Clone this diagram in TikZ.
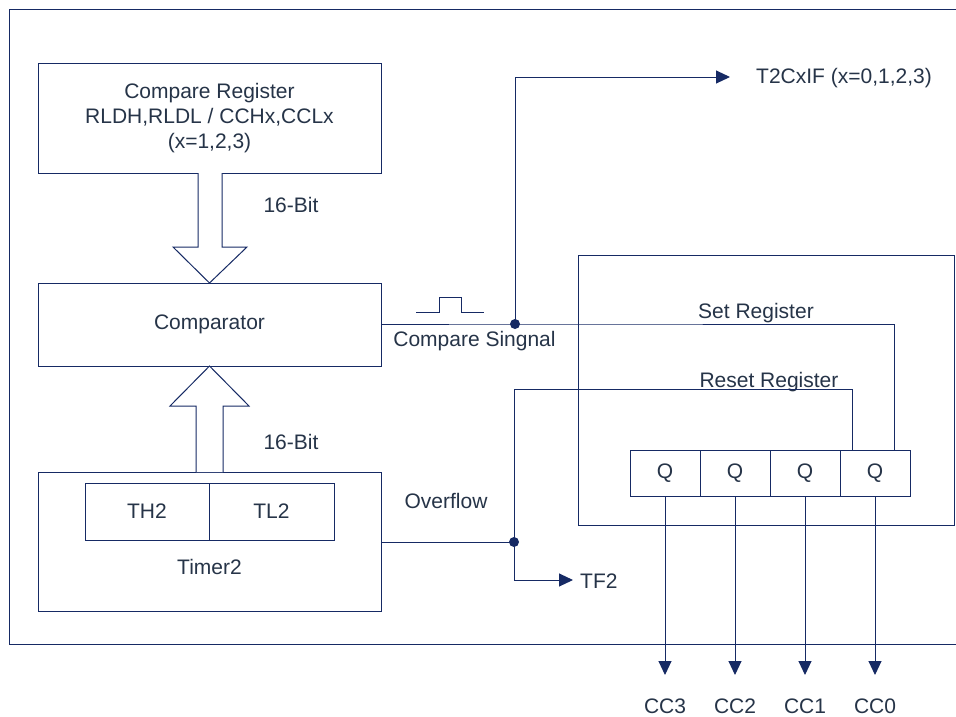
\documentclass[tikz,border=0pt]{standalone}
\usepackage{fontspec}
\setmainfont{Liberation Sans}
\usetikzlibrary{arrows.meta}
\definecolor{ln}{RGB}{22,42,100}
\definecolor{tx}{RGB}{38,52,72}
\begin{document}
\begin{tikzpicture}[x=1pt,y=-1pt,
  every node/.style={font=\fontsize{21}{25}\selectfont, text=tx},
  box/.style={draw=ln, line width=1pt, inner sep=0pt, anchor=center},
  lbl/.style={inner sep=0pt, anchor=base},
  wire/.style={draw=ln, line width=1pt},
  arr/.style={wire, -{Triangle[length=14pt,width=13pt]}},
  jdot/.style={circle, fill=ln, inner sep=0pt, minimum size=10pt}]
\useasboundingbox (0,0) rectangle (956,716);
\fill[white] (0,0) rectangle (956,716);
% outer frame
\draw[wire] (956,9) -- (9,9) -- (9,644) -- (956,644);
% left column boxes
\node[box, minimum width=343pt, minimum height=110pt, align=center] (creg) at (209.5,118)
  {Compare Register\\RLDH,RLDL / CCHx,CCLx\\(x=1,2,3)};
\node[box, minimum width=343pt, minimum height=83pt] (cmp) at (209.5,324.5) {Comparator};
\node[box, minimum width=343pt, minimum height=139pt] (tmr) at (209.5,541.5) {};
\node[box, minimum width=124pt, minimum height=57pt] (th2) at (147,511.5) {TH2};
\node[box, minimum width=125pt, minimum height=57pt] (tl2) at (271.5,511.5) {TL2};
\node[lbl] (tmrl) at (209.5,574) {Timer2};
% hollow arrows
\draw[wire, fill=white] (198,173) -- (198,247) -- (173,247) -- (209.5,283) -- (247,247) -- (222,247) -- (222,173);
\draw[wire, fill=white] (196,472) -- (196,406) -- (170,406) -- (209.5,366) -- (249,406) -- (223,406) -- (223,472);
\node[lbl] (b1) at (291,212) {16-Bit};
\node[lbl] (b2) at (291,449) {16-Bit};
% register block
\node[box, minimum width=376pt, minimum height=270pt] (regblk) at (766,390) {};
\node[box, minimum width=70pt, minimum height=46pt] (q3) at (665,473) {Q};
\node[box, minimum width=70pt, minimum height=46pt] (q2) at (735,473) {Q};
\node[box, minimum width=70pt, minimum height=46pt] (q1) at (805,473) {Q};
\node[box, minimum width=70pt, minimum height=46pt] (q0) at (875,473) {Q};
\node[lbl] (setl) at (756,318) {Set Register};
\node[lbl] (rstl) at (769,387) {Reset Register};
% compare signal
\node[jdot] (d1) at (515,324) {};
\coordinate (c1) at (cmp.east |- d1);
\draw[wire] (c1) -- (d1.center) -- (894,324) -- (894,450);
\draw[wire] (416,312) -- (439,312) -- (439,297) -- (461,297) -- (461,312) -- (484,312);
\node[lbl] (csl) at (474.5,346) {Compare Singnal};
\coordinate (t2tip) at (730,77);
\draw[arr] (d1.center) -- (515,77) -- (t2tip);
\node[lbl, anchor=base west] (t2c) at (756,83) {T2CxIF (x=0,1,2,3)};
% overflow
\node[jdot] (d2) at (514,542) {};
\coordinate (c2) at (tmr.east |- d2);
\draw[wire] (c2) -- (d2.center);
\node[lbl] (ovf) at (446,508) {Overflow};
\draw[wire] (d2.center) -- (514,389) -- (852,389) -- (852,450);
\coordinate (tftip) at (573,580);
\draw[arr] (d2.center) -- (514,580) -- (tftip);
\node[lbl, anchor=base west] (tf2) at (580,588) {TF2};
% outputs
\foreach \q/\n/\x in {q3/CC3/665, q2/CC2/735, q1/CC1/805, q0/CC0/875}{
  \coordinate (\q tip) at (\x,675);
  \draw[arr] (\q.south) -- (\q tip);
  \node[lbl] (\q lab) at (\x,713) {\n};
}
\end{tikzpicture}
\end{document}
